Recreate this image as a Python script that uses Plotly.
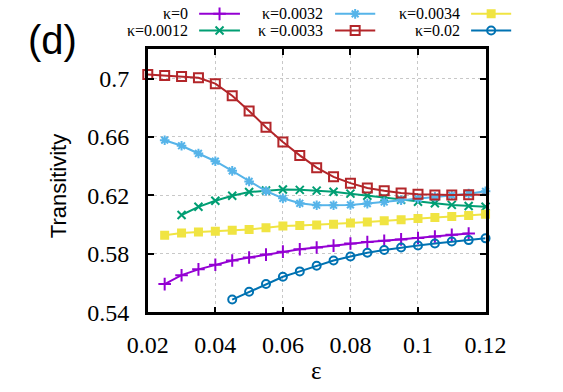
import plotly.graph_objects as go

# ---- data ----
eps_red = [0.02 + 0.005 * i for i in range(21)]
t_k0033 = [0.7028, 0.7021, 0.7014, 0.7005, 0.6965, 0.6882, 0.6778, 0.6666, 0.6565, 0.6474,
           0.6390, 0.6327, 0.6284, 0.6251, 0.6232, 0.6216, 0.6208, 0.6203, 0.6203, 0.6205, 0.6205]

eps_k0032 = [0.025 + 0.005 * i for i in range(20)]
t_k0032 = [0.6578, 0.6540, 0.6487, 0.6434, 0.6368, 0.6296, 0.6230, 0.6180, 0.6146, 0.6133,
           0.6133, 0.6135, 0.6144, 0.6155, 0.6168, 0.6179, 0.6190, 0.6201, 0.6212, 0.6228]

eps_k0012 = [0.03 + 0.005 * i for i in range(19)]
t_k0012 = [0.6066, 0.6122, 0.6163, 0.6198, 0.6223, 0.6234, 0.6241, 0.6238, 0.6233, 0.6225,
           0.6212, 0.6198, 0.6183, 0.6170, 0.6157, 0.6146, 0.6135, 0.6128, 0.6122]

eps_k0034 = [0.025 + 0.005 * i for i in range(20)]
t_k0034 = [0.5927, 0.5943, 0.5950, 0.5954, 0.5961, 0.5967, 0.5978, 0.5990, 0.5994, 0.5998,
           0.6003, 0.6011, 0.6018, 0.6027, 0.6033, 0.6042, 0.6049, 0.6056, 0.6062, 0.6071]

eps_k0 = [0.025 + 0.005 * i for i in range(19)]
t_k0 = [0.5593, 0.5654, 0.5694, 0.5725, 0.5754, 0.5775, 0.5795, 0.5815, 0.5831, 0.5843,
        0.5856, 0.5871, 0.5881, 0.5890, 0.5899, 0.5908, 0.5919, 0.5930, 0.5939]

eps_k002 = [0.045 + 0.005 * i for i in range(16)]
t_k002 = [0.5487, 0.5540, 0.5593, 0.5643, 0.5680, 0.5719, 0.5754, 0.5782, 0.5807, 0.5826,
          0.5844, 0.5857, 0.5871, 0.5884, 0.5894, 0.5906]

x_ticks = [0.02, 0.04, 0.06, 0.08, 0.10, 0.12]
x_ticklabels = ["0.02", "0.04", "0.06", "0.08", "0.1", "0.12"]
y_ticks = [0.54, 0.58, 0.62, 0.66, 0.70]
y_ticklabels = ["0.54", "0.58", "0.62", "0.66", "0.7"]

SERIF = "Liberation Serif"
SANS = "Liberation Sans"

W, H = 563, 392
L, R, T, B = 137, 502, 51, 323  # plot frame in pixels

series = [
    # label, x, y, color, symbol, size, legend col, legend row
    ("κ=0", eps_k0, t_k0, "#9400D3", "cross-thin", 9, 0, 0),
    ("κ=0.0012", eps_k0012, t_k0012, "#009E73", "x-thin", 8, 0, 1),
    ("κ=0.0032", eps_k0032, t_k0032, "#56B4E9", "asterisk", 8, 1, 0),
    ("κ =0.0033", eps_red, t_k0033, "#B3262A", "square-open", 9, 1, 1),
    ("κ=0.0034", eps_k0034, t_k0034, "#F0E442", "square", 7, 2, 0),
    ("κ=0.02", eps_k002, t_k002, "#0072B2", "circle-open", 8, 2, 1),
]

fig = go.Figure()

for name, xs, ys, col, sym, sz, c, r in series:
    fig.add_trace(go.Scatter(
        x=xs, y=ys, mode="lines+markers", name=name, showlegend=False,
        line=dict(color=col, width=2),
        marker=dict(symbol=sym, size=sz, color=col, line=dict(color=col, width=2)),
        xaxis="x", yaxis="y", cliponaxis=False,
    ))

# custom legend (text left, sample right) drawn on a pixel-space overlay axis
col_text_right = [183, 329, 476.7]
col_line = [(192.5, 236.6), (339.4, 382.8), (486.4, 529.7)]
row_y = [14.3, 31.5]
annotations = []
for name, xs, ys, col, sym, sz, c, r in series:
    x0, x1 = col_line[c]
    yy = row_y[r]
    fig.add_trace(go.Scatter(
        x=[x0, (x0 + x1) / 2, x1], y=[yy, yy, yy], mode="lines",
        line=dict(color=col, width=2), showlegend=False, hoverinfo="skip",
        xaxis="x2", yaxis="y2", cliponaxis=False,
    ))
    fig.add_trace(go.Scatter(
        x=[(x0 + x1) / 2], y=[yy], mode="markers",
        marker=dict(symbol=sym, size=sz, color=col, line=dict(color=col, width=2)),
        showlegend=False, hoverinfo="skip", xaxis="x2", yaxis="y2", cliponaxis=False,
    ))
    annotations.append(dict(
        x=col_text_right[c] / W, y=1 - yy / H, xref="paper", yref="paper",
        text=name, showarrow=False, xanchor="right", yanchor="middle",
        font=dict(family=SERIF, size=16, color="black"),
    ))

annotations.append(dict(
    x=34 / W, y=1 - 41 / H, xref="paper", yref="paper", text="(d)", showarrow=False,
    xanchor="center", yanchor="middle",
    font=dict(family=SANS, size=40, color="black"),
))
annotations.append(dict(
    x=40 / W, y=1 - 192.5 / H, xref="paper", yref="paper", text="Transitivity",
    showarrow=False, xanchor="center", yanchor="middle", textangle=-90,
    font=dict(family=SANS, size=22, color="black"),
))
annotations.append(dict(
    x=319 / W, y=1 - 383 / H, xref="paper", yref="paper", text="ε",
    showarrow=False, xanchor="center", yanchor="middle",
    font=dict(family=SERIF, size=25, color="black"),
))

axis_common = dict(
    showline=True, linecolor="black", linewidth=2.5, mirror="ticks",
    ticks="inside", ticklen=6, tickwidth=1.5, tickcolor="black",
    showgrid=True, gridcolor="#c8c8c8", gridwidth=1, griddash="dot",
    zeroline=False,
    tickfont=dict(family=SERIF, size=24, color="black"),
)

fig.update_layout(
    width=W, height=H,
    margin=dict(l=0, r=0, t=0, b=0),
    paper_bgcolor="white", plot_bgcolor="rgba(0,0,0,0)",
    showlegend=False,
    font=dict(family=SERIF),
    xaxis=dict(domain=[L / W, R / W], range=[0.02, 0.12], tickvals=x_ticks,
               ticktext=x_ticklabels, ticklabelstandoff=9, **axis_common),
    yaxis=dict(domain=[1 - B / H, 1 - T / H], range=[0.54, 0.72], tickvals=y_ticks,
               ticktext=y_ticklabels, ticklabelstandoff=11, **axis_common),
    xaxis2=dict(domain=[0, 1], range=[0, W], visible=False, anchor="y2"),
    yaxis2=dict(domain=[0, 1], range=[H, 0], visible=False, anchor="x2"),
    annotations=annotations,
)

fig.write_html("out.html")
